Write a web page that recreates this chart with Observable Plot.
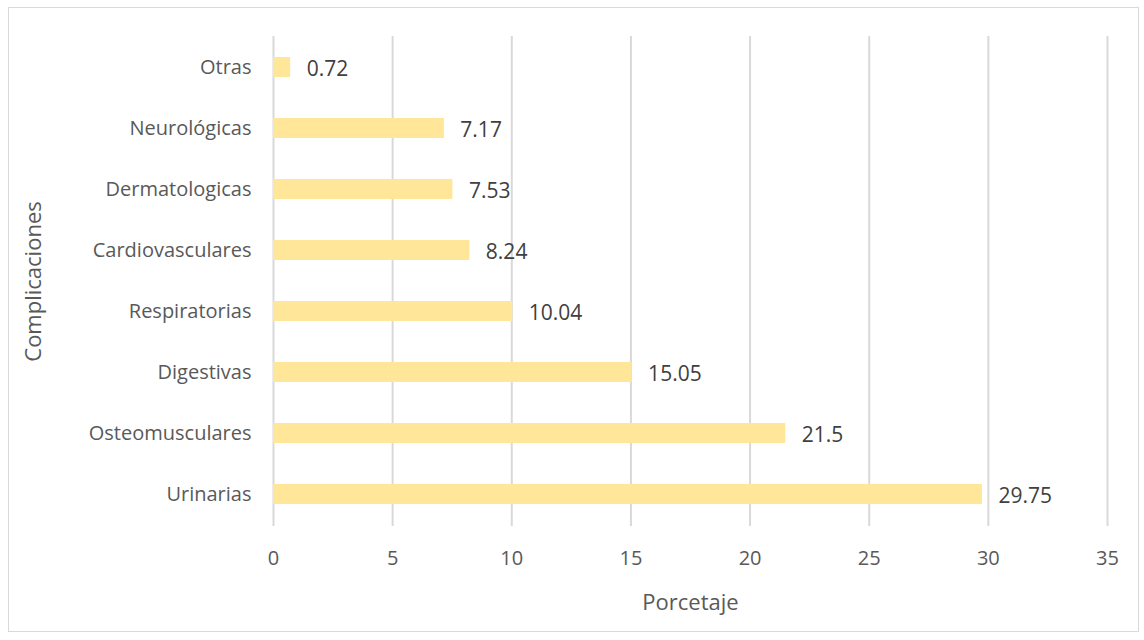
<!DOCTYPE html>
<html><head><meta charset="utf-8">
<script src="https://cdn.jsdelivr.net/npm/d3@7"></script>
<script src="https://cdn.jsdelivr.net/npm/@observablehq/plot@0.6"></script>
<style>
body{margin:0;background:#fff;}
#wrap{position:relative;width:1144px;height:640px;}
#border{position:absolute;left:8px;top:7px;width:1131px;height:625px;border:1px solid #d9d9d9;box-sizing:border-box;pointer-events:none;}
</style></head>
<body><div id="wrap"><div id="border"></div></div>
<script>
const categories = ["Otras","Neurológicas","Dermatologicas","Cardiovasculares","Respiratorias","Digestivas","Osteomusculares","Urinarias"];
const values = [0.72,7.17,7.53,8.24,10.04,15.05,21.5,29.75];
const labels = ["0.72","7.17","7.53","8.24","10.04","15.05","21.5","29.75"];
const xTicks = [0,5,10,15,20,25,30,35];
const data = categories.map((c,i)=>({cat:c,val:values[i],lab:labels[i]}));
const font = "'Open Sans', sans-serif";
const chart = Plot.plot({
  width:1144, height:640,
  marginLeft:273, marginRight:37, marginTop:36, marginBottom:114,
  style:{fontFamily:font, fontSize:"20px", color:"#595959", background:"transparent"},
  x:{domain:[0,35], ticks:xTicks, tickSize:0, tickPadding:24, label:null, grid:false},
  y:{domain:categories, paddingInner:0.67, paddingOuter:0.335, tickSize:0, tickPadding:22, label:null},
  marks:[
    Plot.ruleX(xTicks,{stroke:"#d9d9d9", strokeWidth:2, strokeOpacity:1}),
    Plot.barX(data,{x:"val", y:"cat", fill:"#FFE699"}),
    Plot.text(data,{x:"val", y:"cat", text:"lab", textAnchor:"start", dx:16, dy:2, fill:"#404040", fontSize:21}),
    Plot.text(["Porcetaje"],{frameAnchor:"bottom", dy:83, fontSize:22, fill:"#595959"}),
    Plot.text(["Complicaciones"],{frameAnchor:"left", dx:-240, rotate:-90, textAnchor:"middle", fontSize:22, fill:"#595959"})
  ]
});
document.getElementById("wrap").appendChild(chart);
chart.style.position="absolute";chart.style.left="0";chart.style.top="0";
</script></body></html>
